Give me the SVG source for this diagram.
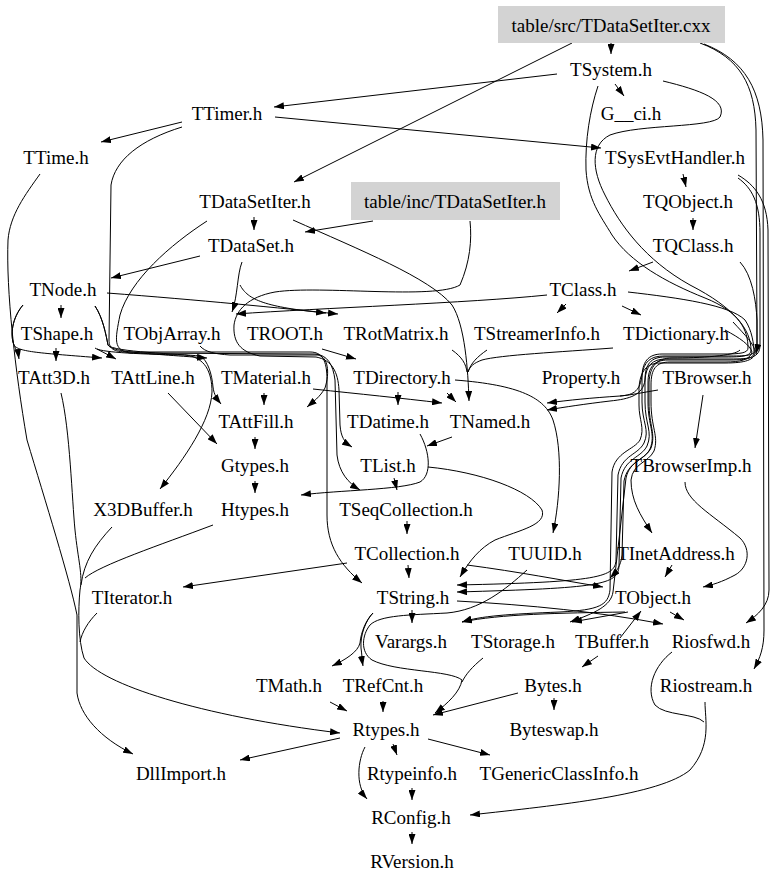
<svg xmlns="http://www.w3.org/2000/svg" width="779" height="883" viewBox="0 0 779 883">
<style>
text{font-family:"Liberation Serif","Times New Roman",serif;font-size:19px;text-anchor:middle;fill:#000}
.box{fill:#d3d3d3;stroke:none}
#edges path{fill:none;stroke:#000;stroke-width:1;marker-end:url(#a)}
#edges path.j{marker-end:none}
</style>
<defs>
<marker id="a" viewBox="0 0 10 7" refX="10" refY="3.5" markerWidth="10" markerHeight="7" orient="auto" markerUnits="userSpaceOnUse"><path d="M0,0 L10,3.5 L0,7 z" fill="#000"/></marker>
</defs>
<rect width="779" height="883" fill="#fff"/>
<g id="edges">
<path d="M611,43 L611,54"/>
<path d="M572,43 L294,182"/>
<path d="M700,43 C740,58 755,85 756,130 L757,340 C757,346 757,349 756,354"/>
<path d="M704,44 C745,60 762,90 763,140 L764,630 C764,648 760,658 754,669"/>
<path d="M557,74 L274,107"/>
<path d="M615,84 L624,96"/>
<path d="M182,122 L101,142"/>
<path d="M275,117 L601,148"/>
<path d="M683,174 L686,187"/>
<path d="M693,218 L693,230"/>
<path d="M254,217 L254,230"/>
<path d="M373,221 L305,232"/>
<path d="M200,256 L111,278"/>
<path d="M61,305 L61,318"/>
<path d="M653,262 L629,271"/>
<path d="M566,304 L557,313"/>
<path d="M622,306 L641,315"/>
<path d="M56,348 L56,361"/>
<path d="M97,349 L116,359"/>
<path d="M264,393 L264,405"/>
<path d="M255,437 L255,449"/>
<path d="M255,481 L255,493"/>
<path d="M168,393 L217,444"/>
<path d="M547,295 C470,303 320,308 236,314"/>
<path d="M242,262 C237,275 238,295 232,312"/>
<path d="M107,293 C200,300 280,308 338,314"/>
<path d="M240,285 C248,300 265,307 326,313"/>
<path d="M322,349 L356,359"/>
<path d="M293,220 C360,250 430,278 452,305 C465,325 468,370 469,401"/>
<path d="M470,221 C472,240 470,262 460,285 C435,300 320,285 275,292 C248,297 236,310 234,325 C233,342 240,352 260,356 L316,357 C332,360 338,372 339,390 L340,425 C341,437 344,442 352,447"/>
<path class="j" d="M452,350 C462,357 466,364 467,372"/>
<path class="j" d="M487,350 C477,357 471,363 468,372"/>
<path class="j" d="M613,348 C560,352 500,355 482,360 C474,363 470,366 468,372"/>
<path d="M455,380 C520,385 545,398 553,420 C563,450 560,500 553,533"/>
<path d="M447,393 L456,402"/>
<path d="M313,389 C360,394 400,398 442,403"/>
<path d="M398,392 L398,405"/>
<path d="M452,437 L427,446"/>
<path d="M420,434 C430,452 432,475 420,482 C400,490 340,490 301,495"/>
<path d="M394,478 L397,490"/>
<path d="M428,467 C480,472 530,490 542,510 C547,525 520,530 495,540 C480,548 470,560 460,577"/>
<path d="M407,521 L407,534"/>
<path d="M408,565 L409,578"/>
<path d="M347,563 L183,587"/>
<path d="M467,565 C520,572 560,580 603,587"/>
<path d="M412,610 L412,623"/>
<path d="M373,613 C366,620 361,632 360,643 C358,652 345,660 332,666"/>
<path d="M373,613 C366,620 360,635 361,648 C362,655 362,660 363,666"/>
<path d="M457,601 C530,605 600,612 663,624"/>
<path d="M527,570 C505,590 480,610 447,613 C410,615 380,615 370,625 C362,635 360,652 372,660 C395,672 450,670 462,680 C460,692 448,703 435,713"/>
<path class="j" d="M483,658 C472,667 466,674 462,682"/>
<path d="M518,693 L433,715"/>
<path d="M598,656 L582,667"/>
<path d="M554,698 L554,710"/>
<path d="M625,612 C560,613 500,614 462,622"/>
<path d="M628,612 L572,622"/>
<path d="M670,612 L684,620"/>
<path d="M620,638 L641,611"/>
<path d="M672,565 L665,577"/>
<path d="M703,395 L695,448"/>
<path d="M685,482 C685,500 710,513 740,538 C752,550 748,568 735,575 C722,582 712,585 703,587"/>
<path d="M738,175 C755,185 767,200 768,230 L769,590 C769,605 758,615 746,623"/>
<path d="M330,702 L347,711"/>
<path d="M383,701 L383,712"/>
<path d="M340,738 L240,760"/>
<path d="M393,744 L397,755"/>
<path d="M428,739 L490,755"/>
<path d="M365,747 C358,760 355,785 367,799"/>
<path d="M412,788 L412,800"/>
<path d="M412,832 L412,844"/>
<path d="M705,702 C705,720 712,745 690,770 C660,795 560,805 470,815"/>
<path class="j" d="M672,652 C655,665 645,688 655,705 C665,716 695,713 704,722"/>
<path d="M40,174 C25,195 10,215 8,240 C6,290 15,370 27,440 C45,500 70,580 77,615 L77,693 C80,715 100,738 133,754"/>
<path d="M61,393 C70,430 72,500 75,530 C78,560 83,575 80,590 C78,610 78,640 84,658 C100,684 200,716 340,733"/>
<path class="j" d="M112,527 C95,545 84,562 81,585"/>
<path class="j" d="M213,525 C160,545 100,565 85,578"/>
<path class="j" d="M97,613 C88,622 82,632 80,642"/>
<path d="M23,305 C12,318 10,335 14,345 C16,350 18,352 19,359"/>
<path d="M23,305 C12,318 10,335 14,345 C18,352 40,353 102,358"/>
<path d="M95,306 C103,318 106,335 108,345 C112,352 140,353 207,358"/>
<path d="M95,348 C100,352 130,354 185,355 C205,357 212,372 212,392 C211,420 185,458 160,489"/>
<path d="M95,306 C103,318 106,335 108,345 C112,352 180,354 200,356 C208,360 212,375 213,387 C214,395 217,399 221,404"/>
<path d="M182,127 C140,140 115,160 111,185 L109,340 C109,350 115,352 130,352 L310,352 C322,352 327,360 327,380 L327,515 C327,545 340,565 362,583"/>
<path d="M207,221 C170,245 130,280 120,315 C115,340 113,350 130,353 L315,354 C328,355 333,365 335,380 L337,455 C339,472 348,483 360,490"/>
<path d="M200,346 C205,352 215,354 230,355 L318,355 C328,357 330,372 325,388 C320,397 313,402 307,407"/>
<path d="M598,86 C590,110 585,140 586,170 C588,200 600,215 612,235 C630,262 665,282 705,298 C740,312 748,330 748,348 C748,353 740,354 725,354 L662,354 C648,354 642,362 642,378 L642,402 C642,422 650,430 644,443 C638,455 622,455 618,475 L616,560 C615,577 600,582 457,585"/>
<path d="M663,81 C700,90 728,100 720,117 C712,128 640,124 610,135 C590,145 592,170 605,195 C620,225 645,260 690,285 C735,308 751,330 751,350 C751,356 743,357 725,357 L665,357 C651,357 645,364 645,380 L645,402 C645,424 653,432 647,446 C641,458 625,458 621,478 L619,566 C618,585 600,588 457,592"/>
<path d="M628,292 C680,298 730,305 745,320 C752,330 754,345 754,352 C754,359 745,360 728,360 L668,360 C654,360 648,367 648,383 L648,402 C648,426 656,434 650,449 C644,461 628,461 624,481 L622,555 C621,566 616,572 610,578"/>
<path d="M740,262 C752,275 756,300 757,320 L757,345 C757,356 748,356 730,356 L664,356 C650,356 644,362 642,375 C640,390 635,395 620,396 C590,398 570,400 547,403"/>
<path d="M738,178 C752,188 760,203 760,233 L760,345 C760,358 750,359 730,359 L666,359 C652,359 646,366 645,380 C643,395 630,399 610,401 C585,404 565,407 547,410"/>
<path d="M725,330 C740,338 750,345 752,352 C750,360 740,362 725,362 L670,362 C656,362 651,369 651,385 L651,402 C651,428 659,436 654,451 C648,463 633,463 631,480 C631,500 640,515 652,533"/>
<path d="M733,322 C745,335 755,345 755,352 C755,360 745,363 725,363 L660,363 C647,363 640,371 639,388 L639,405 C639,420 645,428 640,440 C634,450 615,452 612,472 L610,590 C608,605 600,610 560,612 C510,614 480,616 462,622"/>
<path d="M740,350 C735,356 700,358 672,358 C657,358 650,366 649,382 L649,402 C649,426 656,434 651,448 C645,460 630,460 626,478 L613,592 C611,606 595,613 570,622"/>
<path class="j" d="M658,390 C645,392 632,395 620,396"/>
</g>
<g id="n_src"><rect class="box" x="498" y="6" width="227" height="37"/><text x="611" y="31.5">table/src/TDataSetIter.cxx</text></g>
<g id="n_TSystem"><text x="611" y="75.5">TSystem.h</text></g>
<g id="n_TTimer"><text x="227" y="119.5">TTimer.h</text></g>
<g id="n_Gci"><text x="631" y="119.5">G__ci.h</text></g>
<g id="n_TTime"><text x="56" y="163.5">TTime.h</text></g>
<g id="n_TSysEvtHandler"><text x="675" y="163.5">TSysEvtHandler.h</text></g>
<g id="n_TDataSetIter"><text x="255" y="207.5">TDataSetIter.h</text></g>
<g id="n_inc"><rect class="box" x="351" y="182" width="209" height="38"/><text x="455" y="207.5">table/inc/TDataSetIter.h</text></g>
<g id="n_TQObject"><text x="688" y="207.5">TQObject.h</text></g>
<g id="n_TDataSet"><text x="251" y="251.5">TDataSet.h</text></g>
<g id="n_TQClass"><text x="693" y="251.5">TQClass.h</text></g>
<g id="n_TNode"><text x="63" y="295.5">TNode.h</text></g>
<g id="n_TClass"><text x="583" y="295.5">TClass.h</text></g>
<g id="n_TShape"><text x="57" y="339.5">TShape.h</text></g>
<g id="n_TObjArray"><text x="172" y="339.5">TObjArray.h</text></g>
<g id="n_TROOT"><text x="285" y="339.5">TROOT.h</text></g>
<g id="n_TRotMatrix"><text x="396" y="339.5">TRotMatrix.h</text></g>
<g id="n_TStreamerInfo"><text x="537" y="339.5">TStreamerInfo.h</text></g>
<g id="n_TDictionary"><text x="676" y="339.5">TDictionary.h</text></g>
<g id="n_TAtt3D"><text x="54" y="383.5">TAtt3D.h</text></g>
<g id="n_TAttLine"><text x="153" y="383.5">TAttLine.h</text></g>
<g id="n_TMaterial"><text x="266" y="383.5">TMaterial.h</text></g>
<g id="n_TDirectory"><text x="402" y="383.5">TDirectory.h</text></g>
<g id="n_Property"><text x="581" y="383.5">Property.h</text></g>
<g id="n_TBrowser"><text x="707" y="383.5">TBrowser.h</text></g>
<g id="n_TAttFill"><text x="256" y="427.5">TAttFill.h</text></g>
<g id="n_TDatime"><text x="388" y="427.5">TDatime.h</text></g>
<g id="n_TNamed"><text x="490" y="427.5">TNamed.h</text></g>
<g id="n_Gtypes"><text x="255" y="471.5">Gtypes.h</text></g>
<g id="n_TList"><text x="388" y="471.5">TList.h</text></g>
<g id="n_TBrowserImp"><text x="691" y="471.5">TBrowserImp.h</text></g>
<g id="n_X3DBuffer"><text x="143" y="515.5">X3DBuffer.h</text></g>
<g id="n_Htypes"><text x="255" y="515.5">Htypes.h</text></g>
<g id="n_TSeqCollection"><text x="406" y="515.5">TSeqCollection.h</text></g>
<g id="n_TCollection"><text x="407" y="559.5">TCollection.h</text></g>
<g id="n_TUUID"><text x="545" y="559.5">TUUID.h</text></g>
<g id="n_TInetAddress"><text x="676" y="559.5">TInetAddress.h</text></g>
<g id="n_TIterator"><text x="132" y="603.5">TIterator.h</text></g>
<g id="n_TString"><text x="413" y="603.5">TString.h</text></g>
<g id="n_TObject"><text x="653" y="603.5">TObject.h</text></g>
<g id="n_Varargs"><text x="411" y="647.5">Varargs.h</text></g>
<g id="n_TStorage"><text x="513" y="647.5">TStorage.h</text></g>
<g id="n_TBuffer"><text x="612" y="647.5">TBuffer.h</text></g>
<g id="n_Riosfwd"><text x="711" y="647.5">Riosfwd.h</text></g>
<g id="n_TMath"><text x="289" y="691.5">TMath.h</text></g>
<g id="n_TRefCnt"><text x="383" y="691.5">TRefCnt.h</text></g>
<g id="n_Bytes"><text x="553" y="691.5">Bytes.h</text></g>
<g id="n_Riostream"><text x="706" y="691.5">Riostream.h</text></g>
<g id="n_Rtypes"><text x="386" y="735.5">Rtypes.h</text></g>
<g id="n_Byteswap"><text x="554" y="735.5">Byteswap.h</text></g>
<g id="n_DllImport"><text x="181" y="779.5">DllImport.h</text></g>
<g id="n_Rtypeinfo"><text x="412" y="779.5">Rtypeinfo.h</text></g>
<g id="n_TGenericClassInfo"><text x="559" y="779.5">TGenericClassInfo.h</text></g>
<g id="n_RConfig"><text x="411" y="823.5">RConfig.h</text></g>
<g id="n_RVersion"><text x="412" y="867.5">RVersion.h</text></g>
</svg>
